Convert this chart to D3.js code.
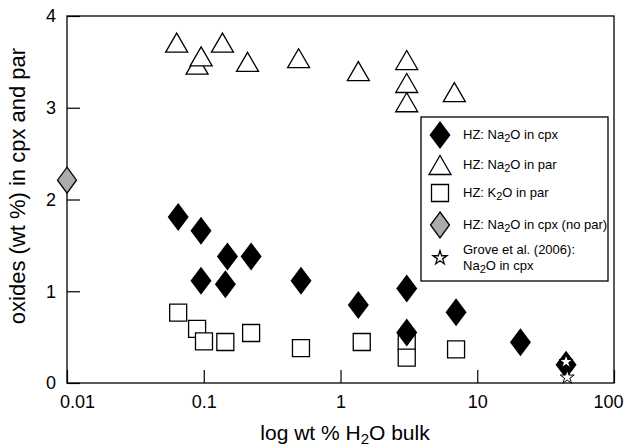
<!DOCTYPE html>
<html>
<head>
<meta charset="utf-8">
<title>oxides vs bulk H2O</title>
<script src="https://cdn.jsdelivr.net/npm/d3@7"></script>
<style>
  body { margin: 0; background: #fff; }
  svg text { font-family: "Liberation Sans", Arial, Helvetica, sans-serif; fill: #000; }
  .axis text { font-size: 18px; }
  .axis line { stroke: #000; stroke-width: 1.2; }
  .axis path { display: none; }
</style>
</head>
<body>
<svg id="chart" width="625" height="448"></svg>
<script>
// values (x = wt % H2O bulk, y = oxide wt %)
var cpxNa = [
  [0.065, 1.81], [0.0955, 1.66], [0.149, 1.38], [0.222, 1.38], [0.0955, 1.115],
  [0.144, 1.075], [0.514, 1.115], [1.35, 0.85], [3.05, 1.03], [3.05, 0.55],
  [7.0, 0.77], [20.7, 0.445], [44.6, 0.20]
];
var parNa = [
  [0.0634, 3.71], [0.0894, 3.47], [0.0957, 3.56], [0.137, 3.71], [0.209, 3.50],
  [0.494, 3.54], [1.35, 3.40], [3.05, 3.06], [3.05, 3.27], [3.05, 3.52], [6.8, 3.17]
];
var parK = [
  [0.065, 0.766], [0.0894, 0.589], [0.1004, 0.454], [0.1438, 0.447], [0.222, 0.545],
  [0.514, 0.381], [1.43, 0.447], [3.05, 0.45], [3.05, 0.276], [7.0, 0.367]
];
var cpxNaNoPar = [[0.01, 2.21]];
var grove = [[44.6, 0.232], [45.5, 0.062]];

var xTicks = [0.01, 0.1, 1, 10, 100];
var xTickLabels = ["0.01", "0.1", "1", "10", "100"];
var yTicks = [0, 1, 2, 3, 4];

var svg = d3.select("#chart");
var plotL = 67, plotR = 614, plotT = 16, plotB = 383;

var x = d3.scaleLog().domain([0.01, 100]).range([plotL, plotR]);
var y = d3.scaleLinear().domain([0, 4]).range([plotB, plotT]);

// marker shapes (centred on their bounding box)
function diamond(w, h) {
  return { draw: function(c) {
    c.moveTo(0, -h / 2); c.lineTo(w / 2, 0); c.lineTo(0, h / 2); c.lineTo(-w / 2, 0); c.closePath();
  }};
}
function triangle(w, h) {
  return { draw: function(c) {
    c.moveTo(0, -h / 2); c.lineTo(w / 2, h / 2); c.lineTo(-w / 2, h / 2); c.closePath();
  }};
}
var symDiamond = d3.symbol().type(diamond(21, 28));
var symGrayDiamond = d3.symbol().type(diamond(19, 26));
var symTriangle = d3.symbol().type(triangle(22, 19));
var symSquare = d3.symbol().type(d3.symbolSquare).size(17 * 17);
var symStar = d3.symbol().type(d3.symbolStar).size(60);

// axes
svg.append("g")
  .attr("class", "axis")
  .attr("transform", "translate(" + plotL + ",0)")
  .call(d3.axisLeft(y).tickValues(yTicks).tickSizeInner(-13).tickSizeOuter(0).tickPadding(11).tickFormat(d3.format("d")));

var gx = svg.append("g")
  .attr("class", "axis")
  .attr("transform", "translate(0," + plotB + ")")
  .call(d3.axisBottom(x).tickValues(xTicks).tickSizeInner(-13).tickSizeOuter(0).tickPadding(12)
    .tickFormat(function(d, i) { return xTickLabels[i]; }));
gx.selectAll(".tick text").attr("dx", function(d, i) {
  if (i == 0) return 10;
  if (i == xTicks.length - 1) return -6;
  return 0;
});

svg.append("rect")
  .attr("x", plotL).attr("y", plotT)
  .attr("width", plotR - plotL).attr("height", plotB - plotT)
  .attr("fill", "none").attr("stroke", "#000").attr("stroke-width", 1.3);

// axis titles
var xl = svg.append("text")
  .attr("x", 345).attr("y", 440)
  .attr("text-anchor", "middle")
  .style("font-size", "21px");
xl.append("tspan").text("log wt % H");
xl.append("tspan").attr("dy", 4).style("font-size", "15px").text("2");
xl.append("tspan").attr("dy", -4).text("O bulk");

svg.append("text")
  .attr("transform", "translate(25,186) rotate(-90)")
  .attr("text-anchor", "middle")
  .style("font-size", "22px")
  .text("oxides (wt %) in cpx and par");

// data marks
function place(d) { return "translate(" + x(d[0]) + "," + y(d[1]) + ")"; }

svg.append("g").selectAll("path").data(parK).enter().append("path")
  .attr("d", symSquare).attr("transform", place)
  .attr("fill", "#fff").attr("stroke", "#000").attr("stroke-width", 1.3);

svg.append("g").selectAll("path").data(cpxNa).enter().append("path")
  .attr("d", symDiamond).attr("transform", place)
  .attr("fill", "#000");

svg.append("g").selectAll("path").data(parNa).enter().append("path")
  .attr("d", symTriangle).attr("transform", place)
  .attr("fill", "#fff").attr("stroke", "#000").attr("stroke-width", 1.3);

svg.append("g").selectAll("path").data(cpxNaNoPar).enter().append("path")
  .attr("d", symGrayDiamond).attr("transform", place)
  .attr("fill", "#ababab").attr("stroke", "#000").attr("stroke-width", 1.3);

svg.append("g").selectAll("path").data(grove).enter().append("path")
  .attr("d", symStar).attr("transform", place)
  .attr("fill", "#fff").attr("stroke", "#000").attr("stroke-width", 1);

// legend
var lg = svg.append("g");
lg.append("rect")
  .attr("x", 421).attr("y", 117).attr("width", 187).attr("height", 164)
  .attr("fill", "#fff").attr("stroke", "#000").attr("stroke-width", 1.3);

var legendRows = [
  { sym: symDiamond, fill: "#000", stroke: "none", my: 135, lines: [["HZ: Na", "2", "O in cpx"]] },
  { sym: symTriangle, fill: "#fff", stroke: "#000", my: 165, lines: [["HZ: Na", "2", "O in par"]] },
  { sym: symSquare, fill: "#fff", stroke: "#000", my: 193, lines: [["HZ: K", "2", "O in par"]] },
  { sym: symGrayDiamond, fill: "#ababab", stroke: "#000", my: 225, lines: [["HZ: Na", "2", "O in cpx (no par)"]] },
  { sym: symStar, fill: "#fff", stroke: "#000", my: 258, lines: [["Grove et al. (2006):"], ["Na", "2", "O in cpx"]] }
];

legendRows.forEach(function(r) {
  lg.append("path")
    .attr("d", r.sym)
    .attr("transform", "translate(440," + r.my + ")")
    .attr("fill", r.fill).attr("stroke", r.stroke).attr("stroke-width", 1.3);
  var base = r.lines.length == 1 ? r.my + 4 : r.my - 4;
  r.lines.forEach(function(parts, j) {
    var t = lg.append("text").attr("x", 463).attr("y", base + j * 16).style("font-size", "13px");
    t.append("tspan").text(parts[0]);
    if (parts.length > 1) {
      t.append("tspan").attr("dy", 3).style("font-size", "11px").text(parts[1]);
      t.append("tspan").attr("dy", -3).text(parts[2]);
    }
  });
});
</script>
</body>
</html>
